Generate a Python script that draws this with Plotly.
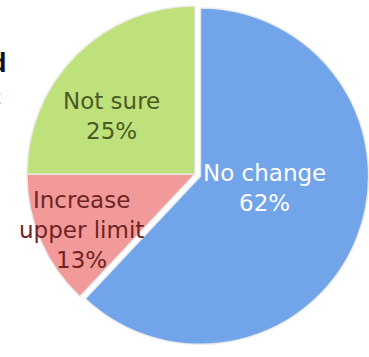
import plotly.graph_objects as go

labels = ["No change", "Increase upper limit", "Not sure"]
values = [62, 13, 25]
label_lines = [["No change"], ["Increase", "upper limit"], ["Not sure"]]

colors = ["#72A4EA", "#F29A9A", "#BFE17C"]
text_colors = ["#FFFFFF", "#6E2424", "#4B5A23"]
pulls = [0.035, 0, 0]
# label positions in pixels (x from left, y from top)
label_pos = [(264, 188), (81, 230), (111, 116)]

W, H = 369, 357
FONT = "DejaVu Sans, Arial, sans-serif"

fig = go.Figure()
fig.add_trace(go.Pie(
    labels=labels,
    values=values,
    sort=False,
    direction="clockwise",
    rotation=0,
    pull=pulls,
    textinfo="none",
    hoverinfo="label+percent",
    marker=dict(colors=colors, line=dict(color="rgba(235,235,235,0.9)", width=1.5)),
    domain=dict(x=[21 / W, 1.0], y=[9 / H, 1.0]),
    showlegend=False,
))

total = sum(values)
annotations = []
for lines, v, (px, py), tc in zip(label_lines, values, label_pos, text_colors):
    txt = "<br>".join(lines + [f"{round(v / total * 100)}%"])
    annotations.append(dict(
        x=px / W, y=1 - py / H, xref="paper", yref="paper",
        text=txt, showarrow=False, xanchor="center", yanchor="middle",
        font=dict(family=FONT, size=23, color=tc),
        align="center",
    ))

# clipped title fragments at the left edge
annotations.append(dict(x=9 / W, y=1 - 63 / H, xref="paper", yref="paper", text="<b>d</b>",
                        showarrow=False, xanchor="right", yanchor="middle",
                        font=dict(family="Arial, Liberation Sans, sans-serif", size=27, color="#111111")))
annotations.append(dict(x=3 / W, y=1 - 97 / H, xref="paper", yref="paper", text="t",
                        showarrow=False, xanchor="right", yanchor="middle",
                        font=dict(family="Arial, Liberation Sans, sans-serif", size=20, color="#777777")))

fig.update_layout(
    width=W, height=H,
    margin=dict(l=0, r=0, t=0, b=0),
    paper_bgcolor="white", plot_bgcolor="white",
    annotations=annotations,
)

fig.write_html("out.html")
